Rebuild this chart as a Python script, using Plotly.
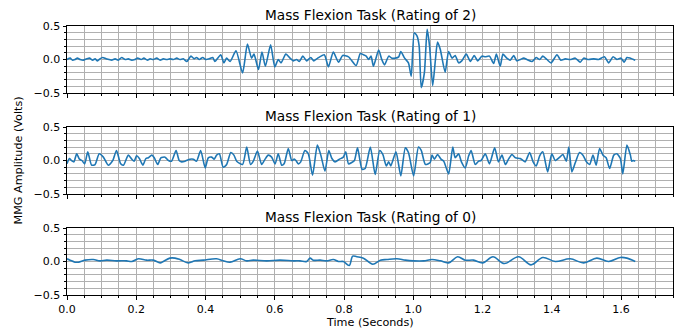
import plotly.graph_objects as go
from plotly.subplots import make_subplots

titles = ["Mass Flexion Task (Rating of 2)",
          "Mass Flexion Task (Rating of 1)",
          "Mass Flexion Task (Rating of 0)"]
x_label = "Time (Seconds)"
y_label = "MMG Amplitude (Volts)"

t_r2 = [0.000, 0.009, 0.016, 0.023, 0.030, 0.038, 0.047, 0.057, 0.065, 0.074,
        0.081, 0.088, 0.095, 0.103, 0.113, 0.122, 0.129, 0.139, 0.148, 0.158,
        0.168, 0.177, 0.187, 0.196, 0.204, 0.214, 0.222, 0.232, 0.240, 0.249,
        0.259, 0.269, 0.278, 0.288, 0.297, 0.307, 0.317, 0.326, 0.336, 0.346,
        0.358, 0.367, 0.374, 0.382, 0.392, 0.401, 0.411, 0.421, 0.427, 0.444,
        0.453, 0.461, 0.471, 0.488, 0.507, 0.521, 0.533, 0.540, 0.553, 0.563,
        0.573, 0.588, 0.600, 0.610, 0.618, 0.632, 0.644, 0.654, 0.663, 0.671,
        0.681, 0.692, 0.704, 0.713, 0.724, 0.743, 0.755, 0.769, 0.784, 0.796,
        0.813, 0.835, 0.847, 0.856, 0.864, 0.871, 0.878, 0.885, 0.900, 0.909,
        0.917, 0.929, 0.938, 0.948, 0.958, 0.964, 0.975, 0.986, 0.994, 1.003,
        1.011, 1.017, 1.023, 1.032, 1.040, 1.047, 1.056, 1.064, 1.070, 1.078,
        1.092, 1.102, 1.112, 1.121, 1.131, 1.140, 1.153, 1.165, 1.176, 1.186,
        1.198, 1.208, 1.220, 1.232, 1.240, 1.251, 1.259, 1.270, 1.280, 1.290,
        1.299, 1.309, 1.319, 1.328, 1.343, 1.355, 1.365, 1.374, 1.386, 1.398,
        1.415, 1.426, 1.439, 1.453, 1.468, 1.482, 1.492, 1.506, 1.521, 1.535,
        1.552, 1.564, 1.577, 1.588, 1.600, 1.609, 1.617, 1.627, 1.641]
a_r2 = [0.00, 0.02, -0.01, 0.00, 0.02, 0.00, -0.01, 0.01, 0.02, -0.01,
        0.01, -0.02, 0.01, 0.03, 0.01, 0.00, -0.01, 0.01, -0.01, 0.03,
        0.00, 0.01, -0.01, 0.00, 0.02, 0.00, 0.02, -0.01, 0.01, 0.00,
        0.02, -0.01, 0.01, 0.00, 0.01, 0.00, 0.02, 0.00, 0.01, -0.03,
        0.05, 0.01, 0.03, 0.00, 0.03, 0.00, 0.01, 0.03, -0.03, 0.07,
        -0.05, 0.02, -0.03, 0.13, -0.20, 0.23, 0.02, 0.08, -0.15, 0.11,
        -0.10, 0.22, -0.11, 0.00, -0.05, 0.08, 0.02, -0.02, 0.00, -0.03,
        0.05, -0.02, 0.03, -0.02, 0.02, 0.07, -0.11, 0.11, -0.04, 0.06,
        0.04, -0.09, 0.09, 0.07, 0.05, 0.00, 0.05, -0.10, 0.14, 0.00,
        -0.08, 0.05, 0.02, 0.02, 0.04, 0.12, 0.02, -0.05, -0.25, 0.40,
        0.35, 0.20, -0.42, -0.20, 0.45, 0.20, -0.39, 0.00, 0.26, 0.15,
        -0.19, 0.12, 0.02, 0.06, -0.05, -0.02, 0.08, -0.03, 0.06, -0.02,
        0.05, 0.04, 0.05, -0.06, 0.08, -0.10, 0.08, 0.02, -0.01, 0.06,
        -0.02, 0.00, 0.02, 0.00, -0.03, 0.03, 0.00, 0.05, 0.00, -0.05,
        0.07, -0.01, 0.01, 0.00, 0.02, -0.04, 0.02, 0.00, 0.01, 0.00,
        0.04, -0.05, 0.04, 0.00, 0.02, -0.04, 0.03, 0.02, -0.01]

t_r1 = [0.000, 0.007, 0.013, 0.020, 0.028, 0.036, 0.043, 0.051, 0.060, 0.071,
        0.081, 0.093, 0.105, 0.119, 0.132, 0.143, 0.155, 0.163, 0.177, 0.187,
        0.194, 0.201, 0.209, 0.219, 0.228, 0.235, 0.245, 0.252, 0.262, 0.271,
        0.283, 0.293, 0.302, 0.315, 0.324, 0.331, 0.341, 0.355, 0.365, 0.374,
        0.386, 0.399, 0.408, 0.418, 0.425, 0.432, 0.440, 0.451, 0.461, 0.473,
        0.482, 0.490, 0.507, 0.519, 0.530, 0.538, 0.550, 0.562, 0.572, 0.581,
        0.591, 0.601, 0.610, 0.620, 0.627, 0.639, 0.649, 0.656, 0.661, 0.668,
        0.675, 0.687, 0.697, 0.709, 0.723, 0.733, 0.745, 0.756, 0.765, 0.774,
        0.787, 0.798, 0.805, 0.813, 0.822, 0.830, 0.839, 0.852, 0.861, 0.876,
        0.890, 0.903, 0.912, 0.922, 0.929, 0.935, 0.950, 0.964, 0.977, 0.986,
        1.001, 1.015, 1.023, 1.035, 1.049, 1.054, 1.061, 1.070, 1.080, 1.088,
        1.102, 1.114, 1.121, 1.131, 1.139, 1.150, 1.160, 1.167, 1.179, 1.189,
        1.196, 1.208, 1.220, 1.235, 1.246, 1.256, 1.266, 1.275, 1.285, 1.295,
        1.309, 1.323, 1.336, 1.346, 1.355, 1.365, 1.374, 1.388, 1.400, 1.410,
        1.423, 1.432, 1.442, 1.449, 1.458, 1.468, 1.480, 1.490, 1.500, 1.509,
        1.519, 1.528, 1.538, 1.548, 1.557, 1.567, 1.579, 1.588, 1.598, 1.605,
        1.617, 1.627, 1.631, 1.636, 1.641]
a_r1 = [-0.05, 0.03, 0.00, -0.02, 0.10, 0.02, 0.00, -0.05, 0.13, -0.07,
        -0.06, 0.10, 0.05, -0.07, 0.00, 0.15, -0.05, -0.07, 0.08, 0.02,
        -0.01, 0.07, 0.03, -0.07, 0.03, 0.04, 0.08, 0.04, -0.06, 0.04,
        0.05, 0.00, -0.01, 0.15, 0.00, -0.02, -0.01, 0.02, 0.02, -0.01,
        0.15, -0.11, 0.04, 0.05, 0.02, 0.08, 0.10, -0.10, -0.06, 0.12,
        0.08, -0.01, -0.06, 0.20, -0.06, -0.01, 0.14, -0.06, 0.02, 0.08,
        0.05, -0.05, 0.10, -0.07, -0.05, 0.18, 0.00, 0.02, 0.00, -0.05,
        -0.02, 0.15, 0.10, -0.22, 0.23, 0.08, -0.16, 0.15, 0.03, -0.02,
        0.02, 0.05, 0.13, -0.05, -0.03, 0.00, 0.19, -0.13, -0.12, 0.20,
        -0.21, 0.15, 0.09, -0.08, -0.02, -0.08, 0.13, -0.23, 0.19, 0.12,
        -0.23, 0.20, 0.15, -0.06, -0.03, 0.08, 0.02, 0.09, 0.02, -0.01,
        -0.20, 0.20, 0.04, 0.10, -0.02, -0.11, 0.07, 0.15, -0.06, -0.01,
        0.00, 0.10, -0.05, 0.19, -0.02, 0.08, -0.06, 0.02, 0.09, 0.04,
        0.03, -0.02, 0.12, -0.02, -0.08, 0.07, 0.13, -0.17, 0.10, 0.00,
        0.05, 0.09, -0.01, 0.20, -0.17, -0.03, 0.12, 0.08, -0.02, -0.06,
        0.08, -0.07, 0.18, 0.08, 0.04, -0.12, 0.08, 0.10, 0.03, -0.20,
        0.23, 0.08, -0.01, 0.00, -0.01]

t_r0 = [0.000, 0.009, 0.023, 0.033, 0.052, 0.076, 0.095, 0.115, 0.143, 0.172,
        0.187, 0.206, 0.230, 0.249, 0.269, 0.278, 0.297, 0.312, 0.326, 0.350,
        0.370, 0.394, 0.432, 0.451, 0.471, 0.500, 0.519, 0.538, 0.577, 0.615,
        0.654, 0.673, 0.692, 0.702, 0.711, 0.731, 0.750, 0.769, 0.784, 0.798,
        0.815, 0.825, 0.837, 0.856, 0.883, 0.905, 0.924, 0.953, 0.977, 1.001,
        1.030, 1.054, 1.078, 1.102, 1.128, 1.150, 1.174, 1.201, 1.230, 1.263,
        1.304, 1.340, 1.374, 1.410, 1.453, 1.492, 1.530, 1.564, 1.598, 1.617,
        1.641]
a_r0 = [0.04, 0.02, -0.01, -0.01, 0.02, 0.03, 0.01, 0.02, 0.01, 0.01,
        0.00, 0.04, 0.02, 0.02, -0.02, 0.00, 0.05, 0.05, 0.03, -0.02,
        0.01, 0.02, 0.04, 0.01, -0.01, 0.04, 0.01, 0.02, 0.01, 0.02,
        0.01, 0.01, 0.00, 0.05, 0.02, 0.02, 0.01, 0.03, 0.00, 0.00,
        -0.06, 0.08, 0.07, 0.05, -0.04, 0.02, 0.03, 0.04, 0.02, 0.01,
        0.01, 0.03, 0.01, -0.02, 0.07, 0.02, 0.02, -0.02, 0.07, -0.03,
        0.07, -0.05, 0.06, 0.00, 0.04, -0.02, 0.05, 0.00, 0.06, 0.05,
        0.00]

series = [(t_r2, a_r2, 0.6), (t_r1, a_r1, 0.6), (t_r0, a_r0, 1.0)]

x_range = [0, 1.75]
y_range = [-0.5, 0.5]
y_ticks = [-0.5, 0.0, 0.5]
x_ticks = [0.0, 0.2, 0.4, 0.6, 0.8, 1.0, 1.2, 1.4, 1.6]

W, H = 681, 332
ML, MR, MT, MB = 67, 8, 26, 37
plot_h = H - MT - MB
panels_px = [(26, 93), (127, 194), (228, 295)]
bottom_px = H - MB

fig = make_subplots(rows=3, cols=1)
font_family = "DejaVu Sans, Liberation Sans, sans-serif"
tick_font = dict(size=11, color="black", family=font_family)

for i, (t, a, smooth) in enumerate(series):
    top, bot = panels_px[i]
    dom = [(bottom_px - bot) / plot_h, (bottom_px - top) / plot_h]
    fig.add_trace(go.Scatter(x=t, y=a, mode="lines",
                             line=dict(color="#1f77b4", width=1.6, shape="spline",
                                       smoothing=smooth),
                             showlegend=False, hoverinfo="skip"),
                  row=i + 1, col=1)
    xa = "xaxis" if i == 0 else f"xaxis{i + 1}"
    ya = "yaxis" if i == 0 else f"yaxis{i + 1}"
    fig.layout[xa].update(
        range=x_range, tickvals=x_ticks, tickformat=".1f", automargin=False,
        showticklabels=(i == 2), ticks="outside", ticklen=3.5, tickwidth=0.8,
        tickcolor="black", showline=True, linecolor="black", linewidth=1,
        mirror=True, showgrid=True, gridcolor="#b0b0b0", gridwidth=0.8,
        zeroline=False,
        minor=dict(dtick=0.05, tick0=0, showgrid=True, gridcolor="#b0b0b0",
                   gridwidth=0.8, ticks="outside", ticklen=2, tickcolor="black"),
        tickfont=tick_font)
    fig.layout[ya].update(
        domain=dom, range=y_range, tickvals=y_ticks, tickformat=".1f",
        automargin=False,
        ticks="outside", ticklen=3.5, tickwidth=0.8, tickcolor="black",
        showline=True, linecolor="black", linewidth=1, mirror=True,
        showgrid=True, gridcolor="#b0b0b0", gridwidth=0.8, zeroline=False,
        minor=dict(dtick=0.1, tick0=0, showgrid=True, gridcolor="#b0b0b0",
                   gridwidth=0.8, ticks="outside", ticklen=2, tickcolor="black"),
        tickfont=tick_font)
    fig.add_annotation(text=titles[i], xref="paper", yref="paper",
                       x=0.5, y=(bottom_px - (top - 11)) / plot_h,
                       xanchor="center", yanchor="middle", showarrow=False,
                       font=dict(size=13.7, color="black", family=font_family))

fig.add_annotation(text=y_label, xref="paper", yref="paper",
                   x=(18 - ML) / (W - ML - MR), y=0.5, textangle=-90,
                   xanchor="center", yanchor="middle", showarrow=False,
                   font=dict(size=11.2, color="black", family=font_family))
fig.add_annotation(text=x_label, xref="paper", yref="paper",
                   x=0.5, y=(bottom_px - 323) / plot_h,
                   xanchor="center", yanchor="middle", showarrow=False,
                   font=dict(size=11.2, color="black", family=font_family))

fig.update_layout(width=W, height=H, margin=dict(l=ML, r=MR, t=MT, b=MB),
                  autosize=False,
                  paper_bgcolor="white", plot_bgcolor="white",
                  font=dict(family=font_family, color="black"))

fig.write_html("out.html", config={"displayModeBar": False},
               post_script="document.body.style.margin='0';"
                           "document.body.style.overflow='hidden';")
